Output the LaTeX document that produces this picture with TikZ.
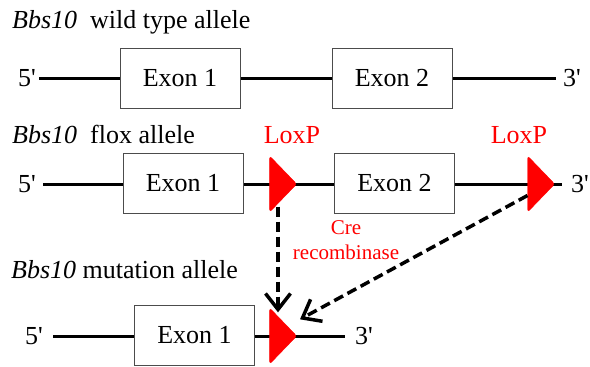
\documentclass[tikz,border=0pt]{standalone}
\usepackage{fontspec}
\setmainfont{Liberation Serif}
\usetikzlibrary{arrows.meta, positioning, shapes.geometric}

\begin{document}
\begin{tikzpicture}[
  x=1pt, y=-1pt,
  dna/.style={line width=3pt, draw=black},
  exon/.style={draw=black!70, line width=1pt, fill=white, minimum width=120pt, minimum height=60pt, inner sep=0pt, font=\fontsize{26}{30}\selectfont},
  loxp/.style={isosceles triangle, isosceles triangle stretches, fill=red, draw=red, rounded corners=2.5pt, minimum width=56pt, minimum height=27pt, inner sep=0pt},
  endtext/.style={font=\fontsize{26}{30}\selectfont, inner ysep=2pt},
  allele/.style={font=\fontsize{26}{30}\selectfont, anchor=base west, inner sep=0pt},
  siteLabel/.style={endtext, text=red, anchor=base},
  enzyme/.style={text=red, align=center, font=\fontsize{21}{25}\selectfont, inner sep=0pt},
  cut/.style={line width=3.5pt, dash pattern=on 10pt off 5pt, -{Straight Barb[length=16pt, width=25pt, line width=3.5pt]}}
  ]

  \useasboundingbox (0,0) rectangle (590,367);

  % Wild type allele
  \node[allele] (wtitle) at (12,28) {\textit{Bbs10}\ \ wild type allele};
  \node[endtext, anchor=east, inner xsep=3pt] (w5) at (39,78) {5\textquotesingle};
  \node[endtext, anchor=west, inner xsep=7pt] (w3) at (556,78) {3\textquotesingle};
  \draw[dna] (w5) -- (w3);
  \node[exon] (wex1) at (180,78) {Exon 1};
  \node[exon] (wex2) at (392,78) {Exon 2};

  % Flox allele
  \node[allele] (ftitle) at (12,143) {\textit{Bbs10}\ \ flox allele};
  \node[endtext, anchor=east, inner xsep=7pt] (f5) at (43,184) {5\textquotesingle};
  \node[endtext, anchor=west, inner xsep=9pt] (f3) at (562,184) {3\textquotesingle};
  \draw[dna] (f5) -- (f3);
  \node[exon] (fex1) at (183,183) {Exon 1};
  \node[loxp] (flox1) at (281,184) {};
  \node[exon] (fex2) at (394.5,183) {Exon 2};
  \node[loxp] (flox2) at (539,184) {};
  \node[siteLabel] (floxlab1) at (292,143) {LoxP};
  \node[siteLabel] (floxlab2) at (519,143) {LoxP};

  % Mutation allele
  \node[allele] (mtitle) at (11,278) {\textit{Bbs10} mutation allele};
  \node[endtext, anchor=east, inner xsep=10pt] (m5) at (53,336) {5\textquotesingle};
  \node[endtext, anchor=west, inner xsep=10pt] (m3) at (345,336) {3\textquotesingle};
  \draw[dna] (m5) -- (m3);
  \node[exon] (mex1) at (194.5,335.5) {Exon 1};
  \node[loxp] (mlox) at (281,336) {};

  % Recombination
  \node[enzyme] (cre) at (346,240) {Cre\\recombinase};
  \draw[cut, shorten <=6pt, shorten >=7pt] ([xshift=-3pt]flox1.south) -- ([xshift=-3pt]mlox.north);
  \draw[cut] (flox2.south west) -- ([xshift=19pt]mlox.north);

\end{tikzpicture}
\end{document}
